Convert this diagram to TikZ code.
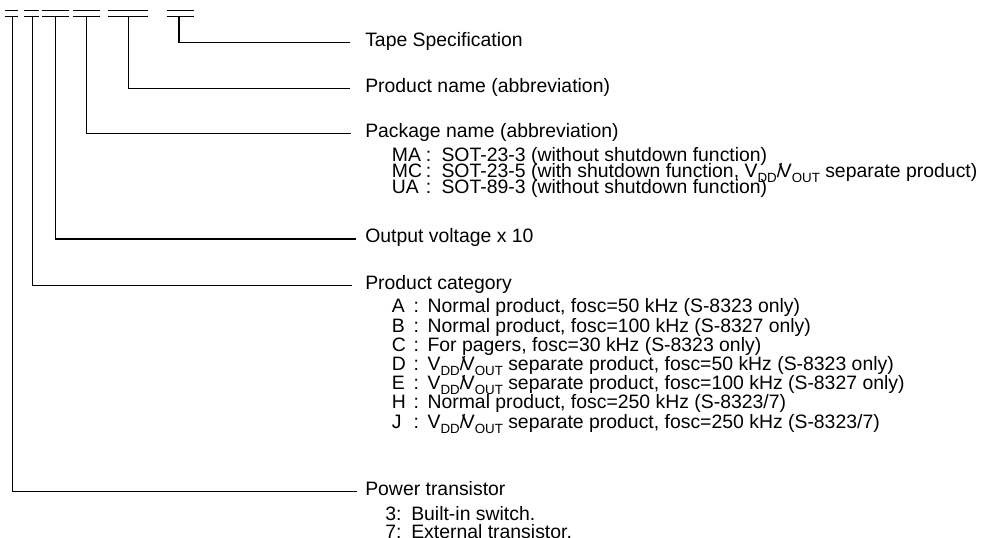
\documentclass[tikz,border=0pt]{standalone}
\usepackage{fontspec}
\setmainfont{Liberation Sans}
\newcommand{\sbs}[1]{\raisebox{-0.27em}{\fontsize{10pt}{10pt}\selectfont #1}}
\newcommand{\vdvo}{V\sbs{DD}/\kern-2.5pt V\sbs{OUT}}
\newcommand{\pkrow}[2]{\makebox[25.5pt][l]{#1}\makebox[11.7pt][l]{:}#2}
\newcommand{\ctrow}[2]{\makebox[16.2pt][l]{#1}\makebox[10.5pt][l]{:}#2}
\newcommand{\pwrow}[2]{\makebox[19.5pt][l]{#1}#2}
\begin{document}
\begin{tikzpicture}[x=0.75pt,y=-0.75pt,
  lbl/.style={anchor=west,inner sep=0pt,font=\fontsize{14.55pt}{17pt}\selectfont,text height=10.4pt,text depth=4.5pt},
  conn/.style={line width=0.9pt,color=black},
  bar/.style={line width=0.9pt,color=black}]
\useasboundingbox (0,0) rectangle (989,538);
% double bars
\foreach \a/\b/\c [count=\i] in {4.7/18.3/12.3, 24/39/32.7, 42.3/69.3/55.7, 72.7/100/86.7, 108.3/148.3/128.3, 166.7/194/179}{
  \draw[bar] (\a,10.5) -- (\b,10.5);
  \draw[bar] (\a,16.7) -- (\b,16.7);
  \coordinate (s\i) at (\c,16.7);
}
% main labels
\node[lbl] (tape) at (365,42.7) {Tape Specification};
\node[lbl] (pname) at (365,88.3) {Product name (abbreviation)};
\node[lbl] (pkg) at (365,133.3) {Package name (abbreviation)};
\node[lbl] (outv) at (365,239) {Output voltage x 10};
\node[lbl] (cat) at (365,285.7) {Product category};
\node[lbl] (pwr) at (365,491.7) {Power transistor};
% package rows
\node[lbl] (ma) at (391.7,157.5) {\pkrow{MA}{SOT-23-3 (without shutdown function)}};
\node[lbl] (mc) at (391.7,173.5) {\pkrow{MC}{SOT-23-5 (with shutdown function, \vdvo{} separate product)}};
\node[lbl] (ua) at (391.7,189.5) {\pkrow{UA}{SOT-89-3 (without shutdown function)}};
% category rows
\node[lbl] (ca) at (391.7,309) {\ctrow{A}{Normal product, fosc=50 kHz (S-8323 only)}};
\node[lbl] (cb) at (391.7,328.2) {\ctrow{B}{Normal product, fosc=100 kHz (S-8327 only)}};
\node[lbl] (cc) at (391.7,347.4) {\ctrow{C}{For pagers, fosc=30 kHz (S-8323 only)}};
\node[lbl] (cd) at (391.7,366.6) {\ctrow{D}{\vdvo{} separate product, fosc=50 kHz (S-8323 only)}};
\node[lbl] (ce) at (391.7,385.8) {\ctrow{E}{\vdvo{} separate product, fosc=100 kHz (S-8327 only)}};
\node[lbl] (ch) at (391.7,405) {\ctrow{H}{Normal product, fosc=250 kHz (S-8323/7)}};
\node[lbl] (cj) at (391.7,424.2) {\ctrow{J}{\vdvo{} separate product, fosc=250 kHz (S-8323/7)}};
% power rows
\node[lbl] (p3) at (385,516.3) {\pwrow{3:}{Built-in switch.}};
\node[lbl] (p7) at (385,534.7) {\pwrow{7:}{External transistor.}};
% connectors
\draw[conn] (s6) |- ([xshift=-11.25pt]tape.west);
\draw[conn] (s5) |- ([xshift=-11.25pt]pname.west);
\draw[conn] (s4) |- ([xshift=-10.7pt]pkg.west);
\draw[conn] (s3) |- ([xshift=-6.75pt]outv.west);
\draw[conn] (s2) |- ([xshift=-9.75pt]cat.west);
\draw[conn] (s1) |- ([xshift=-6pt]pwr.west);
\end{tikzpicture}
\end{document}
